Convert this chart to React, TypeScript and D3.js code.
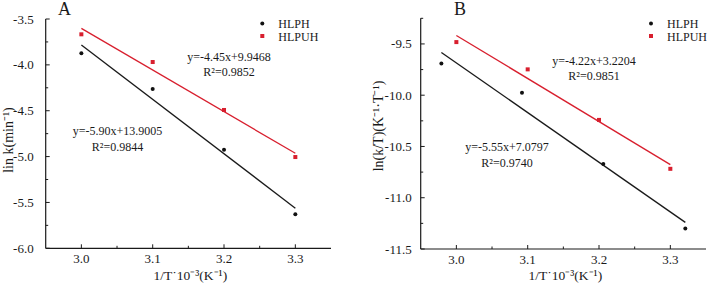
import React from 'react';
import * as d3 from 'd3';

// panel A: lin k vs 1/T
const xA = [3.0, 3.1, 3.2, 3.3];
const hlphA = [-3.874, -4.263, -4.925, -5.63];
const xAU = [3.0, 3.1, 3.2, 3.3];
const hlpuhA = [-3.667, -3.969, -4.492, -5.005];

// panel B: ln(k/T) vs 1/T
const xB = [2.979, 3.092, 3.206, 3.321];
const hlphB = [-9.69, -9.976, -10.672, -11.299];
const xBU = [3.0, 3.1, 3.2, 3.3];
const hlpuhB = [-9.482, -9.748, -10.241, -10.718];

const xTicks = [3.0, 3.1, 3.2, 3.3];
const yTicksA = [-3.5, -4.0, -4.5, -5.0, -5.5, -6.0];
const yTicksB = [-9.5, -10.0, -10.5, -11.0, -11.5];

const eqA = ['y=-5.90x+13.9005', 'R²=0.9844', 'y=-4.45x+9.9468', 'R²=0.9852'];
const eqB = ['y=-5.55x+7.0797', 'R²=0.9740', 'y=-4.22x+3.2204', 'R²=0.9851'];

const RED = '#d81f2e';
const INK = '#1a1a1a';
const FONT = '"Liberation Serif", "Times New Roman", serif';

function fit(xs: number[], ys: number[]) {
  const mx = d3.mean(xs)!;
  const my = d3.mean(ys)!;
  let sxy = 0, sxx = 0;
  xs.forEach((x, i) => { sxy += (x - mx) * (ys[i] - my); sxx += (x - mx) * (x - mx); });
  const b = sxy / sxx;
  const a = my - b * mx;
  const x0 = d3.min(xs)!, x1 = d3.max(xs)!;
  return [[x0, a + b * x0], [x1, a + b * x1]] as [number, number][];
}

type PanelProps = {
  left: number; right: number; top: number; bottom: number;
  yDomain: [number, number]; yTicks: number[];
  xb: number[]; yb: number[]; xr: number[]; yr: number[];
  letter: string; letterX: number;
  ylabel: string; ylabelX: number; ylabelY: number;
  eq: string[]; eqPos: [number, number, number, number];
  legX: number; tickGap: number;
};

function Panel(p: PanelProps) {
  const x = d3.scaleLinear().domain([2.95, 3.35]).range([p.left, p.right]);
  const y = d3.scaleLinear().domain(p.yDomain).range([p.bottom, p.top]);
  const line = d3.line<[number, number]>().x(d => x(d[0])).y(d => y(d[1]));
  const minorX = [3.05, 3.15, 3.25];
  const minorY = p.yTicks.slice(0, -1).map(v => v - 0.25).filter(v => v > p.yDomain[0]);
  if (p.yDomain[1] > p.yTicks[0] + 0.2) minorY.push(p.yTicks[0] + 0.25);
  return (
    <g fontFamily={FONT} fill={INK}>
      {/* axes */}
      <line x1={p.left} x2={p.left} y1={p.top} y2={p.bottom} stroke={INK} strokeWidth={1.2} />
      <line x1={p.left} x2={p.right} y1={p.bottom} y2={p.bottom} stroke={INK} strokeWidth={1.2} />
      {xTicks.map(t => (
        <g key={t}>
          <line x1={x(t)} x2={x(t)} y1={p.bottom} y2={p.bottom - 4} stroke={INK} />
          <text x={x(t)} y={p.bottom + 14.5} textAnchor="middle" fontSize={13}>{t.toFixed(1)}</text>
        </g>
      ))}
      {minorX.map(t => (
        <line key={t} x1={x(t)} x2={x(t)} y1={p.bottom} y2={p.bottom - 2.5} stroke={INK} />
      ))}
      {p.yTicks.map(t => (
        <g key={t}>
          <line x1={p.left} x2={p.left + 4} y1={y(t)} y2={y(t)} stroke={INK} />
          <text x={p.left - p.tickGap} y={y(t) + 4.5} textAnchor="end" fontSize={13}>{t.toFixed(1)}</text>
        </g>
      ))}
      {minorY.map(t => (
        <line key={t} x1={p.left} x2={p.left + 2.5} y1={y(t)} y2={y(t)} stroke={INK} />
      ))}
      {/* fit lines */}
      <path d={line(fit(p.xb, p.yb))!} stroke={INK} strokeWidth={1.3} fill="none" />
      <path d={line(fit(p.xr, p.yr))!} stroke={RED} strokeWidth={1.3} fill="none" />
      {p.xb.map((v, i) => <circle key={i} cx={x(v)} cy={y(p.yb[i])} r={2} fill="#111" />)}
      {p.xr.map((v, i) => <rect key={i} x={x(v) - 2} y={y(p.yr[i]) - 2} width={4} height={4} fill={RED} />)}
      {/* legend */}
      <circle cx={p.legX} cy={23.5} r={2} fill="#111" />
      <text x={p.legX + 16} y={27.5} fontSize={12}>HLPH</text>
      <rect x={p.legX - 2} y={34} width={4} height={4} fill={RED} />
      <text x={p.legX + 16} y={40.5} fontSize={12}>HLPUH</text>
      {/* equations */}
      <text x={p.eqPos[0]} y={p.eqPos[1]} textAnchor="middle" fontSize={12}>{p.eq[0]}</text>
      <text x={p.eqPos[0]} y={p.eqPos[1] + 16} textAnchor="middle" fontSize={12}>{p.eq[1]}</text>
      <text x={p.eqPos[2]} y={p.eqPos[3]} textAnchor="middle" fontSize={12}>{p.eq[2]}</text>
      <text x={p.eqPos[2]} y={p.eqPos[3] + 15} textAnchor="middle" fontSize={12}>{p.eq[3]}</text>
      {/* titles */}
      <text x={p.letterX} y={14.5} fontSize={18}>{p.letter}</text>
      <text transform={`translate(${p.ylabelX},${p.ylabelY}) rotate(-90)`} textAnchor="middle" fontSize={14}>{p.ylabel}</text>
      <text x={(p.left + p.right) / 2 + 2} y={279.5} textAnchor="middle" fontSize={13.5}>1/T˙10⁻³(K⁻¹)</text>
    </g>
  );
}

export default function App() {
  return (
    <svg width={707} height={284} style={{ position: 'absolute', left: 0, top: 0, background: '#fff' }}>
      <Panel left={45.7} right={331} top={19} bottom={248.3}
        yDomain={[-6.0, -3.5]} yTicks={yTicksA}
        xb={xA} yb={hlphA} xr={xAU} yr={hlpuhA}
        letter="A" letterX={58} ylabelX={13} ylabelY={140}
        ylabel="lin k(min⁻¹)"
        eq={eqA} eqPos={[117.5, 134.5, 229, 61]} legX={262.3} tickGap={12} />
      <Panel left={420.7} right={706} top={18.3} bottom={249}
        yDomain={[-11.5, -9.25]} yTicks={yTicksB}
        xb={xB} yb={hlphB} xr={xBU} yr={hlpuhB}
        letter="B" letterX={454} ylabelX={383} ylabelY={126}
        ylabel="ln(k/T)(K⁻¹·T⁻¹)"
        eq={eqB} eqPos={[507, 151, 594, 64.5]} legX={651} tickGap={9} />
    </svg>
  );
}
